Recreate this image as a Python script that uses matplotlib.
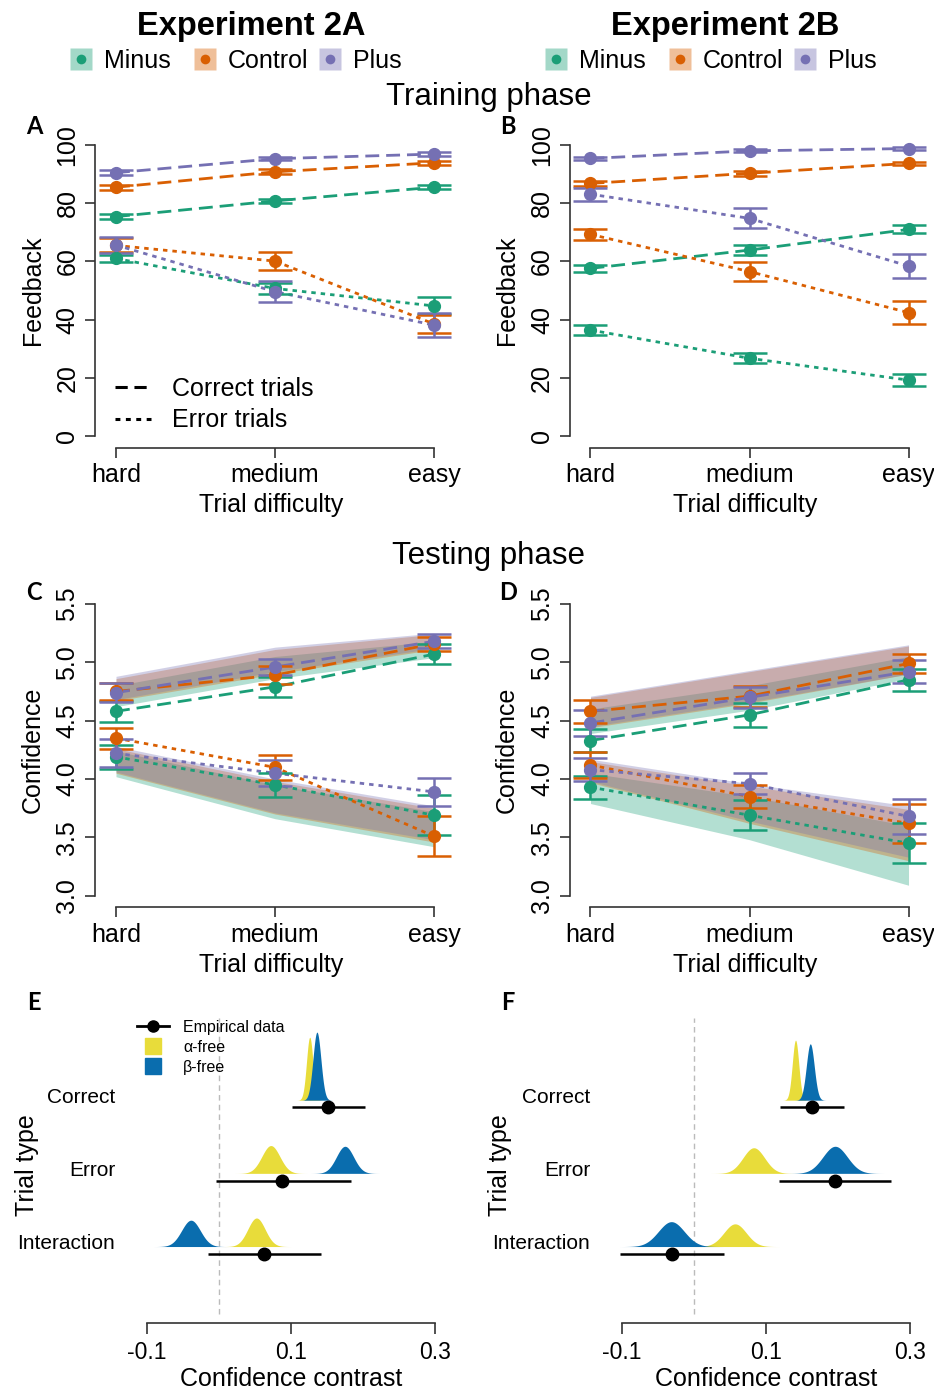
import matplotlib
matplotlib.use('Agg')
import matplotlib.pyplot as plt
import matplotlib.colors as mcolors
import numpy as np
from matplotlib.lines import Line2D
from matplotlib.legend_handler import HandlerTuple

plt.rcParams['font.family'] = ['Liberation Sans', 'DejaVu Sans']

W, H, DPI = 934, 1393, 100

# ---------------- data ----------------
difficulty = ['hard', 'medium', 'easy']
groups = ['Minus', 'Control', 'Plus']
group_colors = ['#1B9E77', '#D95F02', '#7570B3']

# Panel A - training feedback, Experiment 2A
fbA_correct = {'Minus': [75.4, 80.8, 85.5], 'Control': [85.5, 90.8, 93.9], 'Plus': [90.5, 95.3, 96.9]}
fbA_correct_se = {'Minus': [0.9, 0.8, 0.7], 'Control': [0.9, 0.8, 0.6], 'Plus': [0.8, 0.6, 0.6]}
fbA_error = {'Minus': [61.0, 50.7, 44.7], 'Control': [65.5, 60.1, 38.5], 'Plus': [65.6, 49.6, 38.1]}
fbA_error_se = {'Minus': [1.3, 2.0, 2.9], 'Control': [2.4, 3.2, 3.0], 'Plus': [2.7, 3.7, 4.1]}

# Panel B - training feedback, Experiment 2B
fbB_correct = {'Minus': [57.6, 63.9, 71.0], 'Control': [86.8, 90.3, 93.7], 'Plus': [95.4, 98.0, 98.8]}
fbB_correct_se = {'Minus': [1.3, 1.8, 1.4], 'Control': [0.8, 0.8, 0.6], 'Plus': [0.6, 0.5, 0.4]}
fbB_error = {'Minus': [36.4, 26.7, 19.2], 'Control': [69.3, 56.5, 42.4], 'Plus': [83.1, 74.8, 58.4]}
fbB_error_se = {'Minus': [1.7, 1.7, 2.0], 'Control': [2.0, 3.4, 3.9], 'Plus': [2.2, 3.4, 4.2]}

# Panel C - testing confidence, Experiment 2A
cfC_correct = {'Minus': [4.58, 4.79, 5.07], 'Control': [4.75, 4.89, 5.16], 'Plus': [4.74, 4.96, 5.18]}
cfC_correct_se = {'Minus': [0.09, 0.085, 0.085], 'Control': [0.075, 0.08, 0.06], 'Plus': [0.08, 0.07, 0.06]}
cfC_error = {'Minus': [4.19, 3.95, 3.69], 'Control': [4.35, 4.10, 3.51], 'Plus': [4.22, 4.05, 3.89]}
cfC_error_se = {'Minus': [0.10, 0.10, 0.17], 'Control': [0.09, 0.11, 0.17], 'Plus': [0.12, 0.11, 0.12]}
# model bands (lower / upper)
bandC_correct_lo = {'Minus': [4.62, 4.86, 5.04], 'Control': [4.67, 4.90, 5.11], 'Plus': [4.68, 4.92, 5.12]}
bandC_correct_hi = {'Minus': [4.80, 5.05, 5.18], 'Control': [4.86, 5.11, 5.24], 'Plus': [4.88, 5.13, 5.25]}
bandC_error_lo = {'Minus': [4.02, 3.66, 3.42], 'Control': [4.05, 3.70, 3.46], 'Plus': [4.06, 3.71, 3.48]}
bandC_error_hi = {'Minus': [4.24, 3.95, 3.72], 'Control': [4.26, 3.98, 3.75], 'Plus': [4.28, 4.00, 3.77]}

# Panel D - testing confidence, Experiment 2B
cfD_correct = {'Minus': [4.33, 4.55, 4.85], 'Control': [4.58, 4.71, 4.99], 'Plus': [4.48, 4.70, 4.92]}
cfD_correct_se = {'Minus': [0.095, 0.10, 0.095], 'Control': [0.10, 0.09, 0.085], 'Plus': [0.11, 0.09, 0.10]}
cfD_error = {'Minus': [3.93, 3.69, 3.45], 'Control': [4.12, 3.85, 3.62], 'Plus': [4.08, 3.96, 3.68]}
cfD_error_se = {'Minus': [0.10, 0.13, 0.17], 'Control': [0.11, 0.10, 0.17], 'Plus': [0.10, 0.09, 0.15]}
bandD_correct_lo = {'Minus': [4.39, 4.59, 4.86], 'Control': [4.44, 4.65, 4.90], 'Plus': [4.45, 4.66, 4.90]}
bandD_correct_hi = {'Minus': [4.60, 4.80, 5.05], 'Control': [4.70, 4.92, 5.14], 'Plus': [4.71, 4.93, 5.15]}
bandD_error_lo = {'Minus': [3.79, 3.48, 3.09], 'Control': [3.97, 3.62, 3.30], 'Plus': [3.98, 3.64, 3.33]}
bandD_error_hi = {'Minus': [4.05, 3.85, 3.60], 'Control': [4.15, 3.94, 3.74], 'Plus': [4.17, 3.96, 3.77]}

# Panels E/F - confidence contrasts
contrast_types = ['Correct', 'Error', 'Interaction']
E_emp_mean = [0.152, 0.088, 0.063]
E_emp_lo = [0.101, -0.004, -0.016]
E_emp_hi = [0.203, 0.183, 0.141]
F_emp_mean = [0.164, 0.196, -0.031]
F_emp_lo = [0.120, 0.118, -0.103]
F_emp_hi = [0.209, 0.273, 0.041]
# posterior predictive distributions: mean, sd, peak height
E_alpha_mean = [0.126, 0.072, 0.052]
E_alpha_sd = [0.0045, 0.0125, 0.012]
E_alpha_peak = [0.86, 0.38, 0.39]
E_beta_mean = [0.136, 0.175, -0.039]
E_beta_sd = [0.0055, 0.012, 0.013]
E_beta_peak = [0.93, 0.37, 0.36]
F_alpha_mean = [0.141, 0.083, 0.057]
F_alpha_sd = [0.0045, 0.015, 0.0155]
F_alpha_peak = [0.82, 0.35, 0.31]
F_beta_mean = [0.1615, 0.196, -0.0315]
F_beta_sd = [0.0055, 0.017, 0.018]
F_beta_peak = [0.77, 0.37, 0.34]

YELLOW = '#E8DC3A'
BLUE = '#0A6DAE'
AXC = '#333333'

# ---------------- figure ----------------
fig = plt.figure(figsize=(W / DPI, H / DPI), dpi=DPI)


def add_ax(l, t, r, b):
    return fig.add_axes([l / W, 1 - b / H, (r - l) / W, (b - t) / H])


def fx(px):
    return px / W


def fy(py):
    return 1 - py / H


DASHED = (5, 2.5)
DOTTED = (1.6, 1.8)


def style_r_axes(ax, yticks, ylabels):
    for s in ('top', 'right'):
        ax.spines[s].set_visible(False)
    ax.spines['left'].set_bounds(yticks[0], yticks[-1])
    ax.spines['bottom'].set_bounds(1, 3)
    for s in ('left', 'bottom'):
        ax.spines[s].set_color(AXC)
        ax.spines[s].set_linewidth(1.2)
    ax.set_xticks([1, 2, 3])
    ax.set_xticklabels(difficulty)
    ax.set_yticks(yticks)
    ax.set_yticklabels(ylabels)
    ax.tick_params(direction='out', length=7.2, width=1.2, color=AXC, labelsize=18)
    ax.tick_params(axis='x', pad=4)
    ax.tick_params(axis='y', pad=4, labelrotation=90)
    for lab in ax.get_yticklabels():
        lab.set_va('center')
    ax.set_xlim(0.868, 3.132)
    ax.patch.set_visible(False)


def line_panel(ax, corr, corr_se, err, err_se, bands=None):
    x = np.arange(1, len(difficulty) + 1)
    if bands is not None:
        for g, c in zip(groups, group_colors):
            for lo, hi in bands:
                ax.fill_between(x, lo[g], hi[g], color=c, alpha=0.33, lw=0, zorder=1)
    for g, c in zip(groups, group_colors):
        for vals, se, dash in ((corr[g], corr_se[g], DASHED), (err[g], err_se[g], DOTTED)):
            ax.plot(x, vals, color=c, lw=2, dashes=dash, zorder=3)
            ax.errorbar(x, vals, yerr=se, fmt='o', color=c, ms=8.5, capsize=12,
                        elinewidth=1.8, capthick=1.8, zorder=4)


# Panel A
axA = add_ax(95, 133.4, 455, 447.6)
line_panel(axA, fbA_correct, fbA_correct_se, fbA_error, fbA_error_se)
axA.set_ylim(-4, 104)
style_r_axes(axA, [0, 20, 40, 60, 80, 100], ['0', '20', '40', '60', '80', '100'])

# Panel B
axB = add_ax(569.5, 133.4, 929.5, 447.6)
line_panel(axB, fbB_correct, fbB_correct_se, fbB_error, fbB_error_se)
axB.set_ylim(-4, 104)
style_r_axes(axB, [0, 20, 40, 60, 80, 100], ['0', '20', '40', '60', '80', '100'])

# Panel C
axC = add_ax(95, 592.3, 455, 907.4)
line_panel(axC, cfC_correct, cfC_correct_se, cfC_error, cfC_error_se,
           bands=[(bandC_correct_lo, bandC_correct_hi), (bandC_error_lo, bandC_error_hi)])
axC.set_ylim(2.9, 5.6)
style_r_axes(axC, [3.0, 3.5, 4.0, 4.5, 5.0, 5.5], ['3.0', '3.5', '4.0', '4.5', '5.0', '5.5'])

# Panel D
axD = add_ax(569.5, 592.3, 929.5, 907.4)
line_panel(axD, cfD_correct, cfD_correct_se, cfD_error, cfD_error_se,
           bands=[(bandD_correct_lo, bandD_correct_hi), (bandD_error_lo, bandD_error_hi)])
axD.set_ylim(2.9, 5.6)
style_r_axes(axD, [3.0, 3.5, 4.0, 4.5, 5.0, 5.5], ['3.0', '3.5', '4.0', '4.5', '5.0', '5.5'])

# Trial legend in A
lg = axA.legend(handles=[Line2D([], [], color='black', lw=2.2, dashes=(4, 2.2)),
                         Line2D([], [], color='black', lw=2.2, dashes=(1.6, 1.8))],
                labels=['Correct trials', 'Error trials'], loc='upper left',
                bbox_to_anchor=(fx(115), fy(377)), bbox_transform=fig.transFigure,
                frameon=False, fontsize=18, handlelength=1.45, handletextpad=0.85,
                labelspacing=0.3, borderpad=0, borderaxespad=0)


def ridge_panel(ax, emp_mean, emp_lo, emp_hi, a_mean, a_sd, a_peak, b_mean, b_sd, b_peak):
    n = len(contrast_types)
    base = np.arange(n, 0, -1).astype(float)
    for i in range(n):
        for m, s, p, c in ((a_mean[i], a_sd[i], a_peak[i], YELLOW),
                           (b_mean[i], b_sd[i], b_peak[i], BLUE)):
            xs = np.linspace(m - 4 * s, m + 4 * s, 300)
            ax.fill_between(xs, base[i], base[i] + p * np.exp(-0.5 * ((xs - m) / s) ** 2),
                            color=c, lw=0, zorder=2)
        ax.errorbar([emp_mean[i]], [base[i] - 0.1],
                    xerr=[[emp_mean[i] - emp_lo[i]], [emp_hi[i] - emp_mean[i]]],
                    fmt='o', color='black', ms=9, elinewidth=1.8, capsize=0, zorder=4)
    ax.axvline(0, ymin=0.03, ymax=0.99, color='#BBBBBB', lw=1, dashes=(4, 3), zorder=1)
    ax.set_xlim(-0.1306, 0.3278)
    ax.set_ylim(-0.045, 4.164)
    ax.set_yticks(base + 0.07)
    ax.set_yticklabels(contrast_types)
    ax.set_xticks([-0.1, 0.1, 0.3])
    ax.set_xticklabels(['-0.1', '0.1', '0.3'])
    for s in ('top', 'right', 'left'):
        ax.spines[s].set_visible(False)
    ax.spines['bottom'].set_bounds(-0.1, 0.3)
    ax.spines['bottom'].set_color(AXC)
    ax.spines['bottom'].set_linewidth(1.2)
    ax.tick_params(axis='y', length=0, pad=7, labelsize=15)
    ax.tick_params(axis='x', direction='out', length=8, width=1.2, color=AXC, labelsize=16.5, pad=5)
    ax.patch.set_visible(False)


axE = add_ax(125, 1015, 455, 1323)
ridge_panel(axE, E_emp_mean, E_emp_lo, E_emp_hi, E_alpha_mean, E_alpha_sd, E_alpha_peak,
            E_beta_mean, E_beta_sd, E_beta_peak)
axF = add_ax(600, 1015, 930, 1323)
ridge_panel(axF, F_emp_mean, F_emp_lo, F_emp_hi, F_alpha_mean, F_alpha_sd, F_alpha_peak,
            F_beta_mean, F_beta_sd, F_beta_peak)

# Legend in E
axE.legend(handles=[Line2D([], [], color='black', lw=2, marker='o', ms=8),
                    Line2D([], [], color=YELLOW, marker='s', ms=11, ls='none'),
                    Line2D([], [], color=BLUE, marker='s', ms=11, ls='none')],
           labels=['Empirical data', 'α-free', 'β-free'], loc='upper left',
           bbox_to_anchor=(fx(137), fy(1020)), bbox_transform=fig.transFigure,
           frameon=False, fontsize=11.5, handlelength=2.0, handletextpad=0.9,
           labelspacing=0.3, borderpad=0, borderaxespad=0)

# Group legends at top
for starts in ([70, 194, 319], [545, 669, 794]):
    for g, c, x0 in zip(groups, group_colors, starts):
        sq = Line2D([], [], marker='s', ms=16, ls='none', mec='none',
                    color=mcolors.to_rgba(c, 0.4))
        dot = Line2D([], [], marker='o', ms=7, ls='none', mec='none', color=c)
        fig.legend(handles=[(sq, dot)], labels=[g], loc='center left',
                   bbox_to_anchor=(fx(x0), fy(60.5)), frameon=False, fontsize=18,
                   handlelength=0.9, handletextpad=0.45, borderpad=0, borderaxespad=0,
                   handler_map={tuple: HandlerTuple(ndivide=1)})

# Titles and labels
fig.text(fx(251), fy(26), 'Experiment 2A', ha='center', va='center', fontsize=23.5, fontweight='bold')
fig.text(fx(725), fy(26), 'Experiment 2B', ha='center', va='center', fontsize=23.5, fontweight='bold')
fig.text(fx(489), fy(97.5), 'Training phase', ha='center', va='center', fontsize=22.5)
fig.text(fx(489), fy(556), 'Testing phase', ha='center', va='center', fontsize=22.5)

for x, y, s in ((34, 127, 'A'), (508, 127, 'B'), (34, 592, 'C'), (508, 592, 'D'),
                (34, 1003, 'E'), (508, 1003, 'F')):
    fig.text(fx(x), fy(y), s, ha='center', va='center', fontsize=17, fontweight='bold',
             family=['Lato', 'DejaVu Sans'])

for x in (33, 507):
    fig.text(fx(x), fy(290), 'Feedback', rotation=90, ha='center', va='center', fontsize=18)
    fig.text(fx(x), fy(750), 'Confidence', rotation=90, ha='center', va='center', fontsize=18)
for x in (271, 745):
    fig.text(fx(x), fy(505), 'Trial difficulty', ha='center', va='center', fontsize=18)
    fig.text(fx(x), fy(965), 'Trial difficulty', ha='center', va='center', fontsize=18)
fig.text(fx(27), fy(1165), 'Trial type', rotation=90, ha='center', va='center', fontsize=18)
fig.text(fx(500), fy(1165), 'Trial type', rotation=90, ha='center', va='center', fontsize=18)
fig.text(fx(291), fy(1379), 'Confidence contrast', ha='center', va='center', fontsize=18)
fig.text(fx(766), fy(1379), 'Confidence contrast', ha='center', va='center', fontsize=18)

fig.savefig('out.png', dpi=DPI)
